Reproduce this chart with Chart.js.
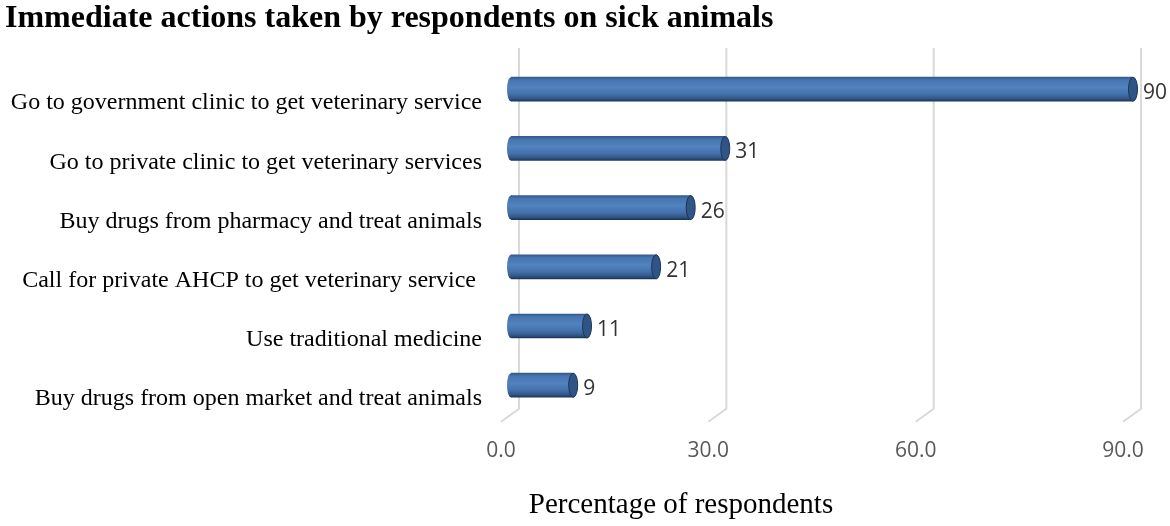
<!DOCTYPE html>
<html lang="en">
<head>
<meta charset="utf-8"/>
<title>Immediate actions taken by respondents on sick animals</title>
<script src="https://cdn.jsdelivr.net/npm/chart.js"></script>
<style>
    html, body { margin: 0; padding: 0; background: #ffffff; }
    #wrap { width: 1170px; height: 526px; position: relative; }
</style>
</head>
<body>
<div id="wrap"><canvas id="chart"></canvas></div>
<script>
const actions = [
    'Go to government clinic to get veterinary service',
    'Go to private clinic to get veterinary services',
    'Buy drugs from pharmacy and treat animals',
    'Call for private AHCP to get veterinary service ',
    'Use traditional medicine',
    'Buy drugs from open market and treat animals'
];
const percentages = [90, 31, 26, 21, 11, 9];
const axisTicks = [0, 30, 60, 90];

const SHIFT = 8;    // front face of the 3D bars sits left of the back wall
const SLANT_X = 18;
const SLANT_Y = 13;

// cylinder-like shading for each bar
function barGradient(ctx) {
    const chart = ctx.chart;
    if (!chart.chartArea || !chart.scales.y) return '#4f81bd';
    const yc = chart.scales.y.getPixelForValue(ctx.dataIndex);
    const g = chart.ctx.createLinearGradient(0, yc - 12, 0, yc + 12);
    g.addColorStop(0, '#35598a');
    g.addColorStop(0.12, '#4675b0');
    g.addColorStop(0.42, '#5283bf');
    g.addColorStop(0.7, '#4372ab');
    g.addColorStop(0.88, '#33598b');
    g.addColorStop(1, '#1d3657');
    return g;
}

const backWall = {
    id: 'backWall',
    beforeDatasetsDraw(chart) {
        const {ctx, scales: {x}, chartArea} = chart;
        ctx.save();
        ctx.strokeStyle = '#d9d9d9';
        ctx.lineWidth = 2;
        axisTicks.forEach(v => {
            const px = x.getPixelForValue(v);
            ctx.beginPath();
            ctx.moveTo(px, 48);
            ctx.lineTo(px, chartArea.bottom - 6);
            ctx.lineTo(px - SLANT_X, chartArea.bottom - 6 + SLANT_Y);
            ctx.stroke();
        });
        ctx.restore();
        ctx.save();
        ctx.translate(-SHIFT, 0);
        // rounded left ends of the cylinders
        chart.getDatasetMeta(0).data.forEach(bar => {
            ctx.beginPath();
            ctx.ellipse(bar.base, bar.y, 4, bar.height / 2, 0, 0, Math.PI * 2);
            ctx.fillStyle = bar.options.backgroundColor;
            ctx.fill();
        });
    },
    afterDatasetsDraw(chart) {
        const {ctx} = chart;
        const meta = chart.getDatasetMeta(0);
        meta.data.forEach((bar, i) => {
            const h = bar.height;
            // end cap
            ctx.beginPath();
            ctx.ellipse(bar.x, bar.y, 4.5, h / 2, 0, 0, Math.PI * 2);
            ctx.fillStyle = '#2e5586';
            ctx.fill();
            ctx.strokeStyle = '#1d3657';
            ctx.lineWidth = 1;
            ctx.stroke();
            // value label
            ctx.fillStyle = '#333333';
            ctx.font = '21px "Open Sans"';
            ctx.textAlign = 'left';
            ctx.textBaseline = 'middle';
            ctx.fillText(String(percentages[i]), bar.x + 10, bar.y + 4);
        });
        ctx.restore();
        // axis title
        ctx.save();
        ctx.fillStyle = '#000000';
        ctx.font = '29px "Liberation Serif"';
        ctx.textAlign = 'center';
        ctx.textBaseline = 'middle';
        ctx.fillText('Percentage of respondents', 681, 505);
        ctx.restore();
    }
};

new Chart(document.getElementById('chart'), {
    type: 'bar',
    data: {
        labels: actions,
        datasets: [{
            data: percentages,
            backgroundColor: barGradient,
            borderWidth: 0,
            barThickness: 24
        }]
    },
    options: {
        indexAxis: 'y',
        responsive: true,
        maintainAspectRatio: false,
        animation: false,
        layout: { padding: {left: 5, right: 29, top: 0, bottom: 0} },
        plugins: {
            legend: { display: false },
            tooltip: { enabled: false },
            title: {
                display: true,
                text: 'Immediate actions taken by respondents on sick animals',
                align: 'start',
                color: '#000000',
                font: { family: 'Liberation Serif', size: 32, weight: 'bold', lineHeight: 1.2 },
                padding: { top: 0, bottom: 21.2 }
            }
        },
        scales: {
            x: {
                min: 0,
                max: 90,
                afterBuildTicks(scale) { scale.ticks = axisTicks.map(v => ({value: v})); },
                afterFit(scale) {
                    scale.height = 111.2;
                    scale.paddingLeft = 0;
                    scale.paddingRight = 0;
                },
                grid: { display: false, drawTicks: false },
                border: { display: false },
                ticks: {
                    padding: 23.6,
                    labelOffset: -SLANT_X,
                    color: '#595959',
                    font: { family: 'Open Sans', size: 21 },
                    callback: v => Number(v).toFixed(1)
                }
            },
            y: {
                afterFit(scale) {
                    scale.width = 514;
                    scale.paddingTop = 0;
                    scale.paddingBottom = 0;
                },
                grid: { display: false, drawTicks: false },
                border: { display: false },
                ticks: {
                    padding: 37,
                    labelOffset: 14,
                    color: '#000000',
                    font: { family: 'Liberation Serif', size: 24 }
                }
            }
        }
    },
    plugins: [backWall]
});
</script>
</body>
</html>
